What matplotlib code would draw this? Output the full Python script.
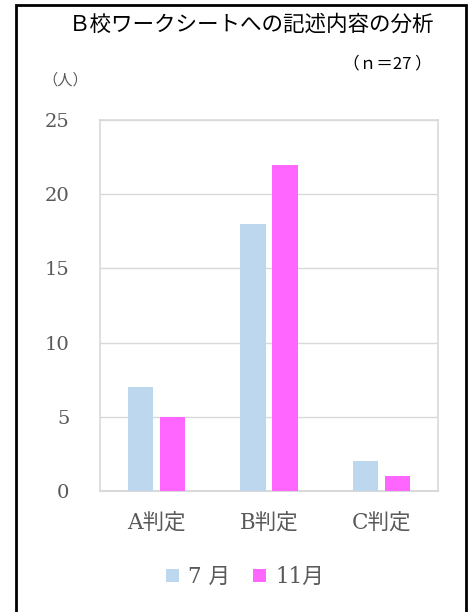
import matplotlib
matplotlib.use("Agg")
import matplotlib.pyplot as plt
import numpy as np
from matplotlib.patches import Rectangle

categories = ["A判定", "B判定", "C判定"]
series_names = ["7 月", "11月"]
july = [7, 18, 2]
november = [5, 22, 1]
yticks = [0, 5, 10, 15, 20, 25]

serif = ["DejaVu Serif", "Noto Sans CJK JP"]
gothic = ["Noto Sans CJK JP", "DejaVu Sans"]
grey = "#595959"

fig = plt.figure(figsize=(4.72, 6.12), dpi=100)
W, H = 472, 612
ax = fig.add_axes([100 / W, 1 - 491 / H, (438 - 100) / W, (491 - 120) / H])

x = np.arange(len(categories))
bw = 0.222
off = 0.142
b1 = ax.bar(x - off, july, bw, color="#BDD7EE", label=series_names[0], zorder=3)
b2 = ax.bar(x + off, november, bw, color="#FF66FF", label=series_names[1], zorder=3)

ax.set_xlim(-0.5, 2.5)
ax.set_ylim(0, 25)
ax.set_yticks(yticks)
ax.set_yticklabels([str(v) for v in yticks], fontfamily=serif, fontsize=14, color=grey)
ax.set_xticks(x)
ax.set_xticklabels(categories, fontfamily=serif, fontsize=15.5, color=grey)
ax.tick_params(axis="y", length=0, pad=22)
ax.tick_params(axis="x", length=0, pad=15)
ax.grid(axis="y", color="#D9D9D9", linewidth=1, zorder=0)
for s in ax.spines.values():
    s.set_color("#D9D9D9")
    s.set_linewidth(1.2)
ax.spines["bottom"].set_linewidth(1.5)

fig.text(252 / W, 1 - 25 / H, "Ｂ校ワークシートへの記述内容の分析", fontfamily=gothic,
         fontsize=15.5, ha="center", va="center", color="black")
fig.text(432 / W, 1 - 64 / H, "（ｎ＝27 ）", fontfamily=gothic, fontsize=12,
         ha="right", va="center", color="black")
fig.text(42 / W, 1 - 80 / H, "（人）", fontfamily=serif, fontsize=11,
         ha="left", va="center", color=grey)

leg = fig.legend(handles=[b1, b2], labels=series_names, loc="center",
                 bbox_to_anchor=(245 / W, 1 - 577 / H), ncol=2, frameon=False,
                 prop={"family": serif, "size": 15.5}, handlelength=0.6,
                 handleheight=0.6, handletextpad=0.4, columnspacing=1.1)
for t in leg.get_texts():
    t.set_color(grey)

fig.patches.append(Rectangle((16 / W, -0.05), (466 - 16) / W, 1 - 5 / H + 0.05,
                             transform=fig.transFigure, fill=False,
                             edgecolor="black", linewidth=2))

fig.savefig("out.png", dpi=100)
